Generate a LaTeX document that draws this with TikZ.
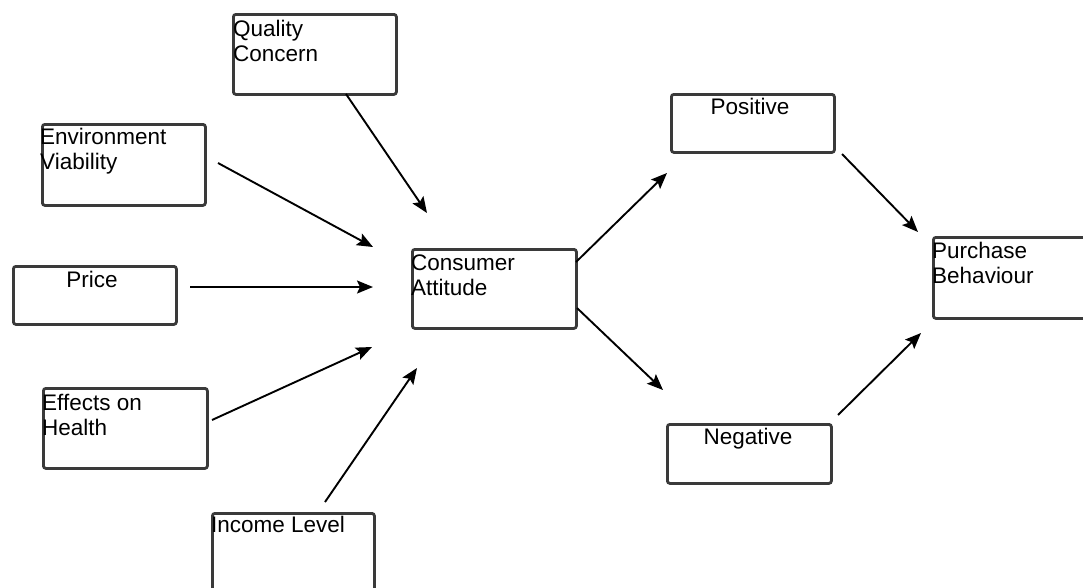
\documentclass[tikz,border=0pt]{standalone}
\usepackage{fontspec}
\setmainfont{Liberation Sans}
\usetikzlibrary{arrows.meta,calc}
\definecolor{boxline}{HTML}{3A3A3A}
\tikzset{
  box/.style={draw=boxline, line width=2.8pt, rounded corners=2.5pt, anchor=north west, inner sep=0pt, fill=white},
  lbl/.style={anchor=north west, inner sep=0pt, align=left, font=\fontsize{22.5}{25}\selectfont},
  clbl/.style={anchor=base, inner sep=0pt, font=\fontsize{22.5}{25}\selectfont},
  arr/.style={line width=1.9pt, -{Stealth[length=16pt,width=13pt,inset=3pt]}}
}
\begin{document}
\begin{tikzpicture}[x=1pt,y=-1pt]
\useasboundingbox (0,0) rectangle (1083,587);
% boxes
\node[box, minimum width=163pt, minimum height=80pt] (qc) at (232,13) {};
\node[box, minimum width=163pt, minimum height=81pt] (ev) at (41,123) {};
\node[box, minimum width=163pt, minimum height=58pt] (pr) at (12,265) {};
\node[box, minimum width=164pt, minimum height=80pt] (eh) at (42,387) {};
\node[box, minimum width=162pt, minimum height=100pt] (il) at (211,512) {};
\node[box, minimum width=164pt, minimum height=79pt] (ca) at (411,248) {};
\node[box, minimum width=163pt, minimum height=58pt] (po) at (670,93) {};
\node[box, minimum width=164pt, minimum height=59pt] (ne) at (666,423) {};
\node[box, minimum width=170pt, minimum height=81pt] (pb) at (932,236) {};
% labels
\node[lbl] (qct) at (233,19.5) {Quality\\Concern};
\node[lbl] (evt) at (40,127.5) {Environment\\Viability};
\node[clbl] (prt) at (92,287) {Price};
\node[lbl] (eht) at (42,394.5) {Effects on\\Health};
\node[lbl] (ilt) at (211,515.5) {Income Level};
\node[lbl] (cat) at (411,254.5) {Consumer\\Attitude};
\node[clbl] (pot) at (750,114) {Positive};
\node[clbl] (net) at (748,444) {Negative};
\node[lbl] (pbt) at (932,241.5) {Purchase\\Behaviour};
% connector end points
\coordinate (qcS) at (346,94);  \coordinate (caQ) at (427,213);
\coordinate (evS) at (218,163); \coordinate (caE) at (373,247);
\coordinate (prS) at (190,287); \coordinate (caP) at (373,287);
\coordinate (ehS) at (212,420); \coordinate (caH) at (372,347);
\coordinate (ilS) at (325,502); \coordinate (caI) at (417,368);
\coordinate (caO) at (576,262); \coordinate (poI) at (667,173);
\coordinate (caN) at (577,308); \coordinate (neI) at (663,390);
\coordinate (poO) at (842,154); \coordinate (pbP) at (918,232);
\coordinate (neO) at (838,415); \coordinate (pbN) at (921,333);
% connectors
\draw[arr] (qcS) -- (caQ);
\draw[arr] (evS) -- (caE);
\draw[arr] (prS) -- (caP);
\draw[arr] (ehS) -- (caH);
\draw[arr] (ilS) -- (caI);
\draw[arr] (caO) -- (poI);
\draw[arr] (caN) -- (neI);
\draw[arr] (poO) -- (pbP);
\draw[arr] (neO) -- (pbN);
\end{tikzpicture}
\end{document}
